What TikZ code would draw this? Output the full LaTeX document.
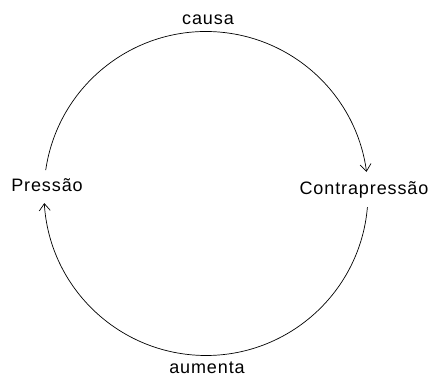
\documentclass[tikz,border=0pt]{standalone}
\usepackage{fontspec}
\setmainfont{Liberation Sans}[LetterSpace=5.0]
\usepackage{tikz}
\usetikzlibrary{
  arrows.meta,
  positioning,
  calc,
}

\begin{document}
\begin{tikzpicture}[
  x=1pt, y=1pt,
  font=\fontsize{18}{20}\selectfont,
  term/.style={inner sep=0pt, anchor=base, text=black},
  link/.style={draw=black, line width=0.7pt, -{Straight Barb[length=7pt, width=11pt]}},
]
  \useasboundingbox (0,0) rectangle (432,377);

  % Centre of the cycle
  \coordinate (ctr) at (206,183.5);

  % Terms
  \node[term] (pressao) at (47,185)  {Pressão};
  \node[term] (contra)  at (364,182) {Contrapressão};

  % Cycle labels
  \node[term] (causa)   at (208,352) {causa};
  \node[term] (aumenta) at (207,3)   {aumenta};

  % Arc ends on the circle
  \coordinate (pTop) at ($(ctr)+(171.7:162)$);
  \coordinate (cBot) at ($(ctr)+(-4.8:162)$);

  % Cycle arcs
  \draw[link] (pTop) arc[start angle=171.7, end angle=7.7, radius=162];
  \draw[link] (cBot) arc[start angle=-4.8, end angle=-176.6, radius=162];
\end{tikzpicture}
\end{document}
